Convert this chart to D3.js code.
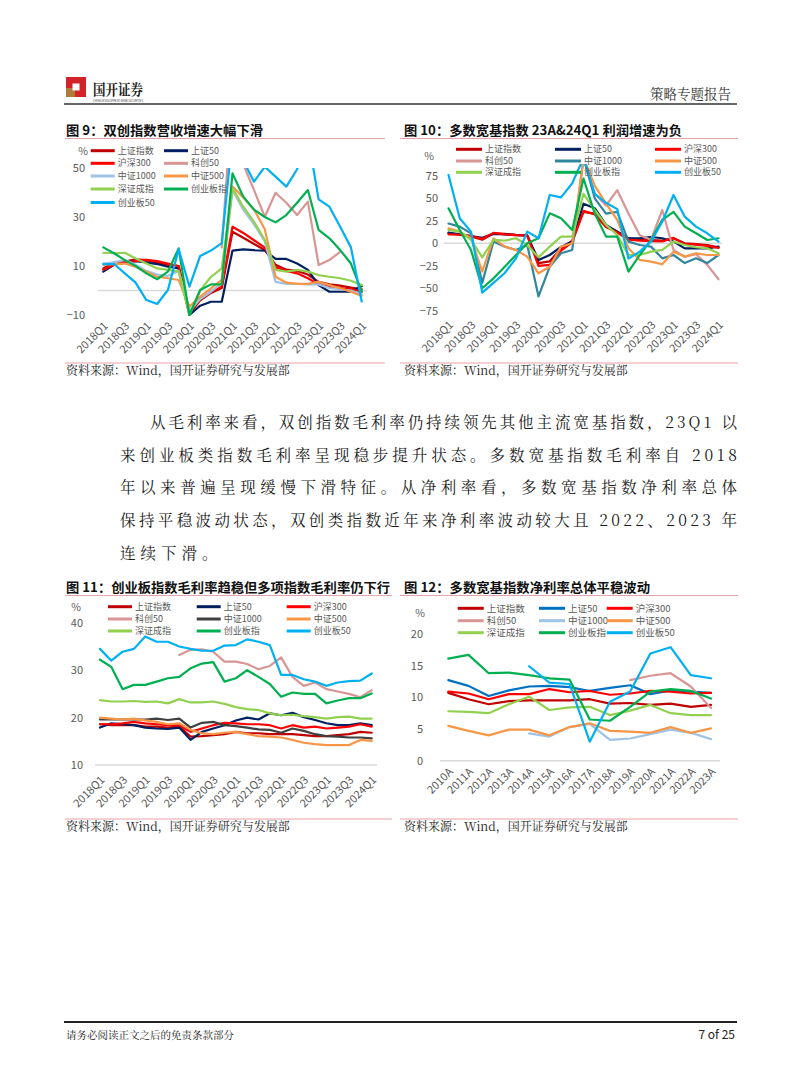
<!DOCTYPE html>
<html><head><meta charset="utf-8">
<script src="https://cdn.jsdelivr.net/npm/d3@7"></script>
<style>
body{margin:0;background:#fff}
svg text{font-family:"Noto Sans CJK SC","Noto Sans",sans-serif}
.serif{font-family:"Noto Serif CJK SC","Source Han Serif SC","SimSun","Noto Sans CJK SC",serif !important}
</style>
</head><body><svg id="page" width="802" height="1087"></svg>
<script>
// ---------------- DATA ----------------
const quarters = ['2018Q1','2018Q2','2018Q3','2018Q4','2019Q1','2019Q2','2019Q3','2019Q4','2020Q1','2020Q2','2020Q3','2020Q4','2021Q1','2021Q2','2021Q3','2021Q4','2022Q1','2022Q2','2022Q3','2022Q4','2023Q1','2023Q2','2023Q3','2023Q4','2024Q1'];
const years = ['2010A','2011A','2012A','2013A','2014A','2015A','2016A','2017A','2018A','2019A','2020A','2021A','2022A','2023A'];
const seriesNames = ['上证指数','上证50','沪深300','科创50','中证1000','中证500','深证成指','创业板指','创业板50'];
const N = null;

// 图9 营收增速 (%)
const rev_szzs  = [9, 11.4, 11.8, 12.7, 12.4, 11.4, 10.4, 10, -9.5, -4, -1, 1, 24, 21.5, 19, 16.5, 10.5, 8.5, 8, 6.5, 3.5, 2.5, 2, 1.2, 0.5];
const rev_sz50  = [7.7, 10.5, 11.5, 12, 11.5, 10.8, 9.7, 9, -10, -6.2, -4.6, -4.6, 16.3, 16.8, 16.5, 16.3, 12.9, 12.9, 11, 8.4, 2.2, -0.5, -0.5, -0.5, 1.8];
const rev_hs300 = [8.5, 10.5, 11.5, 12, 12.5, 12, 11, 10, -9, -3.5, -0.5, 1.5, 26, 23.5, 20.5, 17.5, 9.5, 8, 7, 5, 2.5, 1.5, 1, 0.5, -0.5];
const rev_kc50  = [N, N, N, N, N, N, N, N, N, N, N, 17.6, 80, 51.5, 41, 30.1, 39.9, 35.8, 30.8, 36.3, 10.4, 12.4, 15.8, N, N];
const rev_zz1000= [11, 11.5, 12.5, 10.5, 8, 6.5, 6, 8, -8.5, -3.5, -0.5, 3, 41, 33, 27, 20, 3.5, 2.7, 2.7, 2.5, 2.5, 1, 0.5, 0, -1.5];
const rev_zz500 = [10.5, 10.8, 11, 9.7, 7.7, 5.6, 5, 4.3, -6.6, -2.5, 0.9, 4.3, 42.4, 38, 33, 25, 5.6, 3.2, 2.7, 2.7, 3.6, 2.2, 0.9, -0.5, -2.2];
const rev_szcz  = [15.4, 15.2, 15.4, 13.1, 11, 9, 8.4, 7.7, -10, 0, 5.6, 9, 41.7, 34.2, 28, 20.6, 8.4, 7.7, 8.4, 7.7, 6.3, 5.6, 5, 4, 2.2];
const rev_cyb   = [17.6, 15.2, 12.4, 10, 7, 4.6, 7.7, 17.2, -10, 0.2, 2.5, 2.5, 47.8, 38.3, 33, 30, 27.8, 30.8, 35.8, 41, 24.7, 21.3, 16.5, 11, -0.5];
const rev_cyb50 = [10.8, 10.8, 7, 3.2, -3.9, -5.5, 0.2, 16.8, 1.6, 14.1, 16.3, 19.3, 63, 53, 44.4, 50.5, 46.5, 42.4, 49.5, 63, 37.2, 34.2, 26, 17.6, -4.5];

// 图10 利润增速 (%)
const prof_szzs  = [11, 9.5, 7.5, 4, 11, 10.5, 9.5, 9, -22, -20, -6, 3, 35, 33, 19, 13, 5.5, 4, 3.5, 3, 5.5, 0, -1, -2, -4.5];
const prof_sz50  = [12, 10, 8, 6, 10.5, 10, 9, 8.5, -18.5, -13, -4, 2, 44, 39, 20.5, 13, 5.6, 5.6, 7, 5.6, 2, -5.6, -5.6, -5.6, -3.7];
const prof_hs300 = [10, 9.5, 8, 5, 11.5, 10, 9, 8.5, -25, -24, -8, 1, 36, 32, 18, 12, 4, 3, 2.5, 2, 6, -1, -1.5, -3, -5];
const prof_kc50  = [N, N, N, N, N, N, N, N, N, N, N, N, 95, 55, 42, 59, 33, 9, 4, 37, -7.4, -15, -12, -24, -40];
const prof_zz1000= [22, 18.5, 11, -44, 2, -3.7, -7.4, -1.9, -59, -26, -11, -7.4, 95, 50, 33, 35, 1.9, -1.9, -3.7, -16.7, -13, -22, -16.7, -22, -13];
const prof_zz500 = [16.7, 13, 5.6, -31.5, 5.6, -3.7, -7.4, -14.8, -33.3, -26, -3.7, 0, 95, 64, 44, 26, -5.6, -18.5, -20.4, -23.3, -9.3, -14.8, -11.1, -13, -13];
const prof_szcz  = [14.8, 13, 3.7, -15.6, 3.7, 3, 5.6, -1.9, -15.6, -3.7, 7.4, 7.4, 55, 37, 20.4, 9.3, -13, -13, -9.3, -7.4, 1.9, -1.9, -4.4, -5.6, -11.1];
const prof_cyb   = [38.9, 14.8, -7.4, -50, -38.9, -26, -13, 0, 5.6, 33.3, 27.8, 14.8, 72, 33, 7.4, 7.4, -31.5, -13, 3.7, 26, 35, 18.5, 11.1, 3.7, 5.6];
const prof_cyb50 = [75.9, 27.8, 13, -54.8, -44, -33, -16.7, 13, 5.6, 53.7, 51, 66.7, 95, 55, 45, 38, -17, -9.3, 1.9, 24, 53.7, 29.6, 18.5, 11.1, 1.9];

// 图11 毛利率 (%)
const gm_szzs  = [18.6, 18.4, 18.4, 18.4, 18.1, 18.1, 17.9, 18.1, 16, 16.1, 16.3, 16.5, 17, 16.7, 16.7, 16.5, 16.5, 16.5, 16.3, 16.1, 16.1, 16.3, 16.5, 17, 16.8];
const gm_sz50  = [17.9, 18.8, 18.6, 18.4, 17.9, 17.7, 17.6, 17.9, 15.3, 17, 17.7, 18.4, 19.4, 20, 19.6, 20.9, 20.5, 21, 20.1, 19.5, 18.8, 18.4, 18.4, 18.8, 18.4];
const gm_hs300 = [18.6, 18.6, 18.8, 19.1, 18.8, 18.6, 18.4, 18.4, 17, 17.7, 18.4, 18.9, 18.8, 18.6, 18.6, 18.4, 17.7, 18.4, 17.9, 18.1, 17.7, 17.9, 18.1, 18.6, 18.1];
const gm_kc50  = [N, N, N, N, N, N, N, 33.2, 34.3, 34.4, 33.9, 31.8, 31.8, 31.3, 30.2, 30.9, 32.7, 28.6, 26.7, 27.4, 26, 25.5, 25, 24.3, 25.8];
const gm_zz1000= [19.6, 19.6, 19.6, 19.6, 19.6, 19.8, 19.5, 19.8, 17.9, 18.9, 19.1, 18.4, 18.2, 17.9, 17.5, 17.4, 16.8, 17.7, 17.2, 16.5, 16.1, 16, 15.8, 15.8, 15.6];
const gm_zz500 = [20, 19.8, 19.6, 19.8, 19.4, 19.1, 18.6, 18.8, 17.4, 16.7, 16.5, 16.8, 17, 16.5, 16.1, 16, 15.8, 15.3, 14.7, 14.4, 14.2, 14.2, 14.2, 15.3, 15.1];
const gm_szcz  = [23.7, 23.4, 23.4, 23.5, 23.3, 23.4, 23, 23.9, 23.2, 23.2, 23.4, 22.9, 22.2, 21.8, 21.6, 20.9, 20.5, 20.6, 20.3, 20.1, 19.8, 20.1, 20.2, 19.8, 19.8];
const gm_cyb   = [32.2, 30.7, 26, 26.9, 26.9, 27.6, 28.3, 28.6, 30.4, 31.4, 31.7, 27.6, 28.3, 30, 28.6, 27.1, 24.4, 25.3, 25, 25, 23, 23.6, 24.1, 24.1, 25.1];
const gm_cyb50 = [34.5, 32, 33.9, 34.5, 37.1, 36, 36, 35, 34.5, 34.1, 34.1, 35.2, 35.3, 36.5, 36, 35.3, 29, 29, 28.1, 27.6, 26.7, 27.4, 27.7, 27.8, 29.3];

// 图12 净利率 (%)
const nm_szzs  = [10.7, 9.7, 8.9, 9.4, 9.5, 9.5, 9.5, 9.7, 9, 9.1, 8.8, 9, 8.5, 8.8];
const nm_sz50  = [12.7, 11.8, 10.2, 11.1, 11.7, 11.8, 11.6, 11, 11.5, 11.9, 10.5, 11.1, 10.9, 10.7];
const nm_hs300 = [10.9, 10.6, 9.7, 10.5, 10.5, 11.3, 10.8, 11, 10.4, 10.6, 11, 10.9, 10.6, 10.7];
const nm_kc50  = [N, N, N, N, N, N, N, N, N, 12.7, 13.4, 13.8, 11.7, 8.3];
const nm_zz1000= [N, N, N, N, 4.3, 3.8, 5.3, 5.8, 3.3, 3.5, 4.2, 4.9, 4.4, 3.4];
const nm_zz500 = [5.5, 4.7, 4, 4.9, 4.9, 4, 5.3, 5.9, 4.7, 4.6, 4.4, 5.3, 4.4, 5.1];
const nm_szcz  = [7.8, 7.7, 7.5, 8.9, 10.1, 8, 8.4, 8.5, 7.2, 7.9, 8.8, 7.5, 7.2, 7.2];
const nm_cyb   = [16.1, 16.7, 13.8, 13.9, 13.5, 13, 12.8, 6.5, 6.3, 8.5, 10.9, 11.3, 11, 9.8];
const nm_cyb50 = [N, N, N, N, 14.9, 12.3, 12.1, 3, 9.3, 10.9, 16.9, 17.9, 13.5, 13];

const yTicks9 = [-10, 10, 30, 50];
const yTicks10 = [-75, -50, -25, 0, 25, 50, 75];
const yTicks11 = [10, 20, 30, 40];
const yTicks12 = [0, 5, 10, 15, 20];

// ---------------- STYLE ----------------
const C = {szzs:'#C00000', navy:'#002060', blue:'#0070C0', red:'#FF0000', pink:'#D99594',
  ltblue:'#9DC3E6', teal:'#31859C', dgray:'#404040', orange:'#F79646', lgreen:'#92D050', green:'#00B050', sky:'#00B0F0'};
const pinkLine = '#E3A3AA';
const svg = d3.select('#page');

function drawChart(cfg){
  const g = svg.append('g');
  const x = d3.scalePoint().domain(cfg.cats).range(cfg.xRange);
  const y = d3.scaleLinear().domain(cfg.yDomain).range(cfg.yRange);
  // title
  g.append('text').attr('x', cfg.titleX).attr('y', cfg.titleY).attr('font-size', 13).attr('font-weight', 700)
    .attr('fill', '#111').attr('textLength', cfg.titleLen).attr('lengthAdjust','spacingAndGlyphs').text(cfg.title);
  g.append('line').attr('x1', cfg.boxX[0]).attr('x2', cfg.boxX[1]).attr('y1', cfg.titleLineY).attr('y2', cfg.titleLineY)
    .attr('stroke', pinkLine).attr('stroke-width', 1.2);
  g.append('line').attr('x1', cfg.boxX[0]).attr('x2', cfg.boxX[1]).attr('y1', cfg.srcLineY).attr('y2', cfg.srcLineY)
    .attr('stroke', pinkLine).attr('stroke-width', 1.2);
  g.append('text').attr('class','serif').attr('x', cfg.titleX).attr('y', cfg.srcY).attr('font-size', 12)
    .attr('fill', '#222').text('资料来源：Wind，国开证券研究与发展部');
  // y axis labels
  const ya = g.append('g').attr('transform', `translate(${cfg.yLabelX},0)`)
    .call(d3.axisLeft(y).tickValues(cfg.yTicks).tickSize(0).tickPadding(0).tickFormat(d3.format('d')));
  ya.select('.domain').remove();
  ya.selectAll('text').attr('font-size', 11).attr('fill', '#595959').attr('font-family', '"Noto Sans",sans-serif');
  g.append('text').attr('x', cfg.pctX).attr('y', cfg.pctY).attr('text-anchor','end').attr('font-size', 10.5)
    .attr('fill', '#595959').attr('font-family','"Noto Sans",sans-serif').text('%');
  // baseline
  g.append('line').attr('x1', cfg.axisX[0]).attr('x2', cfg.axisX[1]).attr('y1', y(cfg.baseVal)).attr('y2', y(cfg.baseVal))
    .attr('stroke', '#D9D9D9').attr('stroke-width', 1.5);
  // x labels
  const xa = g.append('g').attr('transform', `translate(0,${cfg.xLabelY})`)
    .call(d3.axisBottom(x).tickValues(cfg.cats.filter((d,i)=>i % cfg.every === 0)).tickSize(0));
  xa.select('.domain').remove();
  xa.selectAll('text').attr('font-size', 11).attr('fill', '#595959').attr('font-family', '"Noto Sans",sans-serif')
    .attr('text-anchor','end').attr('x', 3).attr('y', 0).attr('dy','0.35em').attr('transform','rotate(-45)');
  // lines
  const clipId = 'clip' + cfg.id;
  svg.append('clipPath').attr('id', clipId).append('rect')
    .attr('x', cfg.axisX[0] - 5).attr('width', cfg.axisX[1] - cfg.axisX[0] + 10)
    .attr('y', cfg.clipTop).attr('height', cfg.yRange[0] - cfg.clipTop + 8);
  const lg = g.append('g').attr('clip-path', `url(#${clipId})`);
  const line = d3.line().defined(d => d != null).x((d,i) => x(cfg.cats[i])).y(d => y(d));
  cfg.series.forEach((s, k) => {
    lg.append('path').datum(s).attr('d', line).attr('fill','none').attr('stroke', cfg.colors[k])
      .attr('stroke-width', 2.2).attr('stroke-linejoin','round').attr('stroke-linecap','round');
  });
  // legend
  seriesNames.forEach((name, k) => {
    const col = k % cfg.legCols.length, row = Math.floor(k / cfg.legCols.length);
    const lx = cfg.legCols[col], ly = cfg.legRows[row];
    g.append('line').attr('x1', lx).attr('x2', lx + cfg.legLen).attr('y1', ly).attr('y2', ly)
      .attr('stroke', cfg.colors[k]).attr('stroke-width', 3);
    g.append('text').attr('x', lx + cfg.legLen + 3).attr('y', ly).attr('dy','0.35em').attr('font-size', cfg.legFont)
      .attr('fill', '#595959').text(name);
  });
}

drawChart({id:9, cats: quarters, every: 2,
  series:[rev_szzs, rev_sz50, rev_hs300, rev_kc50, rev_zz1000, rev_zz500, rev_szcz, rev_cyb, rev_cyb50],
  colors:[C.szzs, C.navy, C.red, C.pink, C.ltblue, C.orange, C.lgreen, C.green, C.sky],
  xRange:[103.3, 361.7], yDomain:[-10, 50], yRange:[315, 168], yTicks: yTicks9, clipTop: 168,
  title:'图 9：双创指数营收增速大幅下滑', titleX: 66, titleY: 135, titleLen: 197,
  boxX:[65, 385], titleLineY: 138.5, srcLineY: 363, srcY: 375,
  yLabelX: 85, pctX: 88, pctY: 155, axisX:[98, 367], baseVal: 0, xLabelY: 326,
  legCols:[90.7, 164], legRows:[150.7, 163.3, 176, 189, 202.5], legLen: 24, legFont: 9});

drawChart({id:10, cats: quarters, every: 2,
  series:[prof_szzs, prof_sz50, prof_hs300, prof_kc50, prof_zz1000, prof_zz500, prof_szcz, prof_cyb, prof_cyb50],
  colors:[C.szzs, C.navy, C.red, C.pink, C.teal, C.orange, C.lgreen, C.green, C.sky],
  xRange:[448.5, 718.5], yDomain:[-75, 75], yRange:[310.8, 175.8], yTicks: yTicks10, clipTop: 164,
  title:'图 10：多数宽基指数 23A&24Q1 利润增速为负', titleX: 404, titleY: 135, titleLen: 278,
  boxX:[400, 738], titleLineY: 138.5, srcLineY: 363, srcY: 375,
  yLabelX: 438, pctX: 434, pctY: 160, axisX:[444, 722], baseVal: 0, xLabelY: 325,
  legCols:[456, 555, 655], legRows:[149.3, 161, 172.3], legLen: 26, legFont: 9});

drawChart({id:11, cats: quarters, every: 2,
  series:[gm_szzs, gm_sz50, gm_hs300, gm_kc50, gm_zz1000, gm_zz500, gm_szcz, gm_cyb, gm_cyb50],
  colors:[C.szzs, C.navy, C.red, C.pink, C.dgray, C.orange, C.lgreen, C.green, C.sky],
  xRange:[100, 371.7], yDomain:[10, 40], yRange:[765, 622.8], yTicks: yTicks11, clipTop: 615,
  title:'图 11：创业板指数毛利率趋稳但多项指数毛利率仍下行', titleX: 66, titleY: 592, titleLen: 324,
  boxX:[65, 392], titleLineY: 595.5, srcLineY: 819, srcY: 831,
  yLabelX: 83, pctX: 81, pctY: 611, axisX:[95, 377], baseVal: 10, xLabelY: 780,
  legCols:[108, 196.7, 286.7], legRows:[606.7, 619, 631], legLen: 24, legFont: 9});

drawChart({id:12, cats: years, every: 1,
  series:[nm_szzs, nm_sz50, nm_hs300, nm_kc50, nm_zz1000, nm_zz500, nm_szcz, nm_cyb, nm_cyb50],
  colors:[C.szzs, C.blue, C.red, C.pink, C.ltblue, C.orange, C.lgreen, C.green, C.sky],
  xRange:[448.3, 711], yDomain:[0, 20], yRange:[760.7, 633.9], yTicks: yTicks12, clipTop: 620,
  title:'图 12：多数宽基指数净利率总体平稳波动', titleX: 404, titleY: 592, titleLen: 246,
  boxX:[400, 738], titleLineY: 595.5, srcLineY: 819, srcY: 831,
  yLabelX: 423, pctX: 425, pctY: 617, axisX:[440, 720], baseVal: 0, xLabelY: 772,
  legCols:[457.7, 539, 606.7], legRows:[608.3, 620.7, 632.7], legLen: 26, legFont: 9.5});

// ---------------- PAGE FURNITURE ----------------
svg.append('rect').attr('x', 66).attr('y', 77).attr('width', 20).attr('height', 20).attr('fill', '#D2232A');
svg.append('rect').attr('x', 66).attr('y', 88).attr('width', 9).attr('height', 9).attr('fill', '#B07A3A');
svg.append('rect').attr('x', 72.5).attr('y', 83.5).attr('width', 7).attr('height', 7).attr('fill', '#fff');
svg.append('text').attr('class','serif').attr('x', 93).attr('y', 95).attr('font-size', 15).attr('font-weight', 700)
  .attr('fill', '#1a1a1a').attr('textLength', 50).attr('lengthAdjust','spacingAndGlyphs').text('国开证券');
svg.append('text').attr('x', 93).attr('y', 101.5).attr('font-size', 3.5).attr('fill', '#333')
  .attr('textLength', 50).attr('lengthAdjust','spacingAndGlyphs').text('CHINA DEVELOPMENT BANK SECURITIES');
svg.append('text').attr('class','serif').attr('x', 731).attr('y', 99).attr('text-anchor','end').attr('font-size', 13.5)
  .attr('fill', '#333').text('策略专题报告');
svg.append('line').attr('x1', 64).attr('x2', 737).attr('y1', 104).attr('y2', 104).attr('stroke', '#333').attr('stroke-width', 1.5);

const bodyLines = [
  {t:'从毛利率来看，双创指数毛利率仍持续领先其他主流宽基指数，23Q1 以', x:150, w:587},
  {t:'来创业板类指数毛利率呈现稳步提升状态。多数宽基指数毛利率自 2018', x:120, w:617},
  {t:'年以来普遍呈现缓慢下滑特征。从净利率看，多数宽基指数净利率总体', x:120, w:617},
  {t:'保持平稳波动状态，双创类指数近年来净利率波动较大且 2022、2023 年', x:120, w:617},
  {t:'连续下滑。', x:120, w:null}
];
bodyLines.forEach((l, i) => {
  const t = svg.append('text').attr('class','serif').attr('x', l.x).attr('y', 428 + i * 32.7)
    .attr('font-size', 15.5).attr('fill', '#1a1a1a').text(l.t);
  if (l.w) t.attr('textLength', l.w).attr('lengthAdjust', 'spacing');
  else t.attr('letter-spacing', 5);
});

svg.append('line').attr('x1', 64).attr('x2', 737).attr('y1', 1022).attr('y2', 1022).attr('stroke', '#222').attr('stroke-width', 2);
svg.append('text').attr('class','serif').attr('x', 66).attr('y', 1039).attr('font-size', 10.5).attr('fill', '#222')
  .text('请务必阅读正文之后的免责条款部分');
svg.append('text').attr('x', 735).attr('y', 1039).attr('text-anchor','end').attr('font-size', 12).attr('fill', '#222')
  .attr('font-family', '"Liberation Serif",serif').text('7 of 25');
</script>
</body></html>
